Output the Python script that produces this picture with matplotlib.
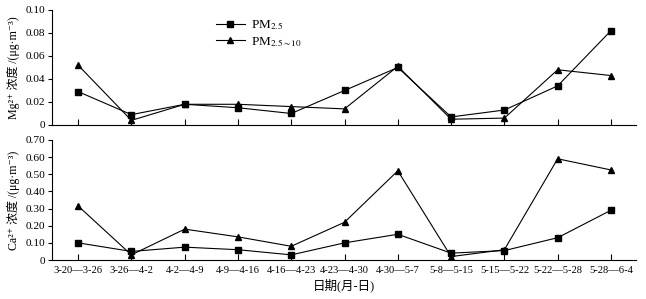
import numpy as np
import matplotlib
matplotlib.use('Agg')
import matplotlib.pyplot as plt

plt.rcParams['font.family'] = ['Liberation Serif', 'Noto Sans CJK SC', 'DejaVu Sans']
plt.rcParams['mathtext.fontset'] = 'stix'
plt.rcParams['font.size'] = 8.2

periods = ['3-20—3-26', '3-26—4-2', '4-2—4-9', '4-9—4-16', '4-16—4-23', '4-23—4-30',
           '4-30—5-7', '5-8—5-15', '5-15—5-22', '5-22—5-28', '5-28—6-4']

mg_pm25 = [0.029, 0.009, 0.018, 0.015, 0.010, 0.030, 0.050, 0.007, 0.013, 0.034, 0.082]
mg_pm2510 = [0.052, 0.004, 0.018, 0.018, 0.016, 0.014, 0.051, 0.005, 0.006, 0.048, 0.043]

ca_pm25 = [0.10, 0.05, 0.075, 0.06, 0.03, 0.10, 0.15, 0.04, 0.055, 0.13, 0.29]
ca_pm2510 = [0.315, 0.03, 0.18, 0.135, 0.08, 0.22, 0.52, 0.02, 0.06, 0.59, 0.525]

x = np.arange(len(periods))

fig = plt.figure(figsize=(6.46, 2.99), dpi=100)
ax1 = fig.add_axes([0.0805, 0.582, 0.904, 0.3846])
ax2 = fig.add_axes([0.0805, 0.1304, 0.904, 0.4016])


def style(ax, ymax, step, fmt):
    for s in ['top', 'right']:
        ax.spines[s].set_visible(False)
    for s in ['left', 'bottom']:
        ax.spines[s].set_linewidth(0.8)
    ax.set_xlim(-0.49, 10.47)
    ax.set_ylim(0, ymax)
    ax.set_xticks(x)
    ticks = np.arange(0, ymax + step / 2, step)
    ax.set_yticks(ticks)
    ax.set_yticklabels(['0'] + [fmt.format(t) for t in ticks[1:]])
    ax.tick_params(axis='x', direction='in', length=4, width=0.8)
    ax.tick_params(axis='y', direction='out', length=3, width=0.8, pad=2)


ax1.plot(x, mg_pm25, 'k-', marker='s', ms=4.5, lw=0.8, label='PM$_{2.5}$')
ax1.plot(x, mg_pm2510, 'k-', marker='^', ms=4.5, lw=0.8, label='PM$_{2.5\\sim10}$')
style(ax1, 0.10, 0.02, '{:.2f}')
ax1.set_xticklabels([])
ax1.set_ylabel('Mg²⁺ 浓度 /(μg·m⁻³)', labelpad=4, fontsize=8.6)
ax1.legend(loc='upper left', bbox_to_anchor=(0.26, 1.03), frameon=False,
           handlelength=2.2, handletextpad=0.5, labelspacing=0.2, fontsize=9.5)

ax2.plot(x, ca_pm25, 'k-', marker='s', ms=4.5, lw=0.8)
ax2.plot(x, ca_pm2510, 'k-', marker='^', ms=4.5, lw=0.8)
style(ax2, 0.70, 0.10, '{:.2f}')
ax2.set_xticklabels(periods, fontsize=7.6)
ax2.tick_params(axis='x', pad=4)
ax2.set_ylabel('Ca²⁺ 浓度 /(μg·m⁻³)', labelpad=4, fontsize=8.6)
ax2.set_xlabel('日期(月-日)', labelpad=3, fontsize=9)

fig.savefig('out.png', dpi=100)
